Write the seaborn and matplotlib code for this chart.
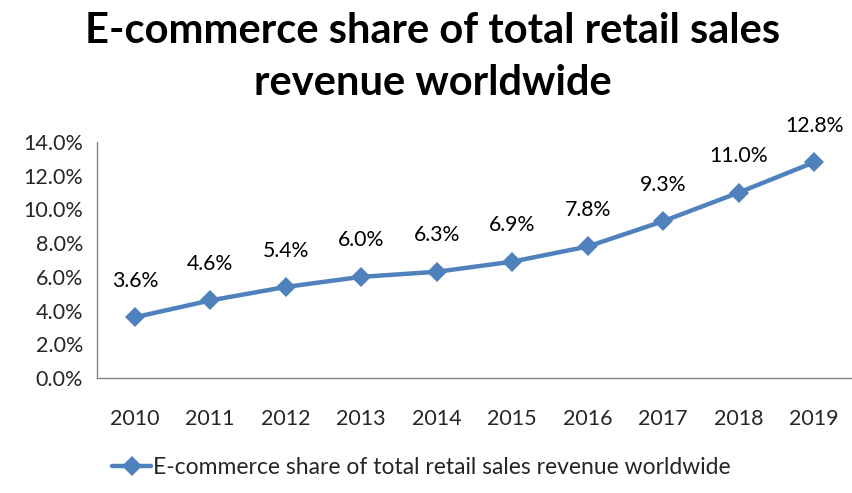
import matplotlib
matplotlib.use("Agg")
import matplotlib.pyplot as plt
import seaborn as sns
import pandas as pd
import numpy as np

years = ["2010", "2011", "2012", "2013", "2014", "2015", "2016", "2017", "2018", "2019"]
share = [3.6, 4.6, 5.4, 6.0, 6.3, 6.9, 7.8, 9.3, 11.0, 12.8]
y_ticks = [0, 2, 4, 6, 8, 10, 12, 14]
series_name = "E-commerce share of total retail sales revenue worldwide"
title = "E-commerce share of total retail sales\nrevenue worldwide"

sns.set_style("white")
plt.rcParams["font.family"] = ["Lato", "DejaVu Sans"]

line_color = "#4F81BD"
axis_color = "#868686"

df = pd.DataFrame({"pos": np.arange(len(years)), "share": share})

fig = plt.figure(figsize=(8.53, 4.93), dpi=100)
ax = fig.add_axes([0.1137, 0.2333, 0.8851, 0.4787])

sns.lineplot(data=df, x="pos", y="share", ax=ax, color=line_color, linewidth=3.2,
             marker="D", markersize=10, markeredgewidth=0, label=series_name)

for x, v in zip(df["pos"], share):
    ax.annotate(f"{v:.1f}%", (x, v), xytext=(0, 19), textcoords="offset points",
                ha="center", va="bottom", fontsize=15.3, color="black")

ax.set_xlim(-0.5, len(years) - 0.5)
ax.set_ylim(0, 14)
ax.set_yticks(y_ticks)
ax.set_yticklabels([f"{t:.1f}%" for t in y_ticks], fontsize=15.5)
ax.set_xticks(np.arange(-0.5, len(years), 1.0))
ax.set_xticklabels([])
ax.set_xticks(np.arange(len(years)), minor=True)
ax.set_xticklabels(years, minor=True, fontsize=15.5)
ax.tick_params(axis="x", which="major", length=6, width=1, color=axis_color, direction="out")
ax.tick_params(axis="x", which="minor", length=0, pad=22)
ax.tick_params(axis="y", length=6, width=1, color=axis_color, direction="out", pad=4)
ax.set_xlabel("")
ax.set_ylabel("")
for side in ("top", "right"):
    ax.spines[side].set_visible(False)
for side in ("left", "bottom"):
    ax.spines[side].set_color(axis_color)
    ax.spines[side].set_linewidth(1)

fig.suptitle(title, fontsize=30, fontweight="bold", y=0.975, x=0.507, linespacing=1.45,
             color="black")

ax.legend(loc="center", bbox_to_anchor=(0.43, -0.38), frameon=False, fontsize=16.5,
          handlelength=1.7, handletextpad=0.1, borderaxespad=0)

fig.savefig("out.png", dpi=100)
